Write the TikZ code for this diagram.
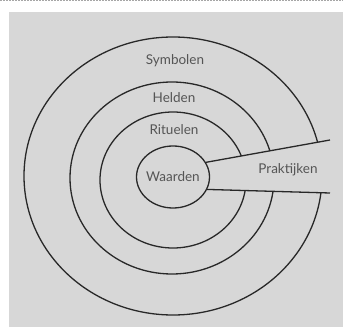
\documentclass[tikz,border=0pt]{standalone}
\usepackage{fontspec}
\setmainfont{Lato}
\usetikzlibrary{shapes.geometric}
\definecolor{bggray}{RGB}{215,215,215}
\definecolor{linegray}{RGB}{40,40,40}
\definecolor{textgray}{RGB}{85,85,85}

\begin{document}
\begin{tikzpicture}[x=1pt, y=1pt,
    ring/.style={draw=linegray, line width=1.3pt},
    lbl/.style={text=textgray, font=\fontsize{13.5}{16}\selectfont, inner sep=0pt}]
    \useasboundingbox (0,0) rectangle (343,327);
    \draw[gray!70, line width=1pt, dash pattern=on 1.5pt off 1.5pt] (0,326) -- (343,326);
    \fill[bggray] (9,0) rectangle (343,315);

    % inner circle and the slot
    \node[ring, ellipse, minimum width=73pt, minimum height=62pt, inner sep=0pt] (waarden) at (173,150) {};
    \coordinate (topin) at (waarden.24);
    \coordinate (botin) at (waarden.-20);
    \coordinate (topout) at (330,187);
    \coordinate (botout) at (330,134);

    % the rings, cut open where the slot runs through
    \begin{scope}
        \clip (0,0) -- (343,0) -- (343,134) -- (botout) -- (botin) -- (topin) -- (topout) -- (343,187) -- (343,327) -- (0,327) -- cycle;
        \draw[ring] (173,151) ellipse [x radius=149, y radius=139];
        \draw[ring] (172,149) ellipse [x radius=102, y radius=96];
        \draw[ring] (173,147) ellipse [x radius=73, y radius=68];
    \end{scope}
    \draw[ring] (topin) -- (topout);
    \draw[ring] (botin) -- (botout);

    \node[lbl] (symbolen) at (175,266) {Symbolen};
    \node[lbl] (helden) at (174,229) {Helden};
    \node[lbl] (rituelen) at (174,197) {Rituelen};
    \node[lbl] (waardentxt) at (waarden) {Waarden};
    \node[lbl] (praktijken) at (288,157) {Praktijken};
\end{tikzpicture}
\end{document}
